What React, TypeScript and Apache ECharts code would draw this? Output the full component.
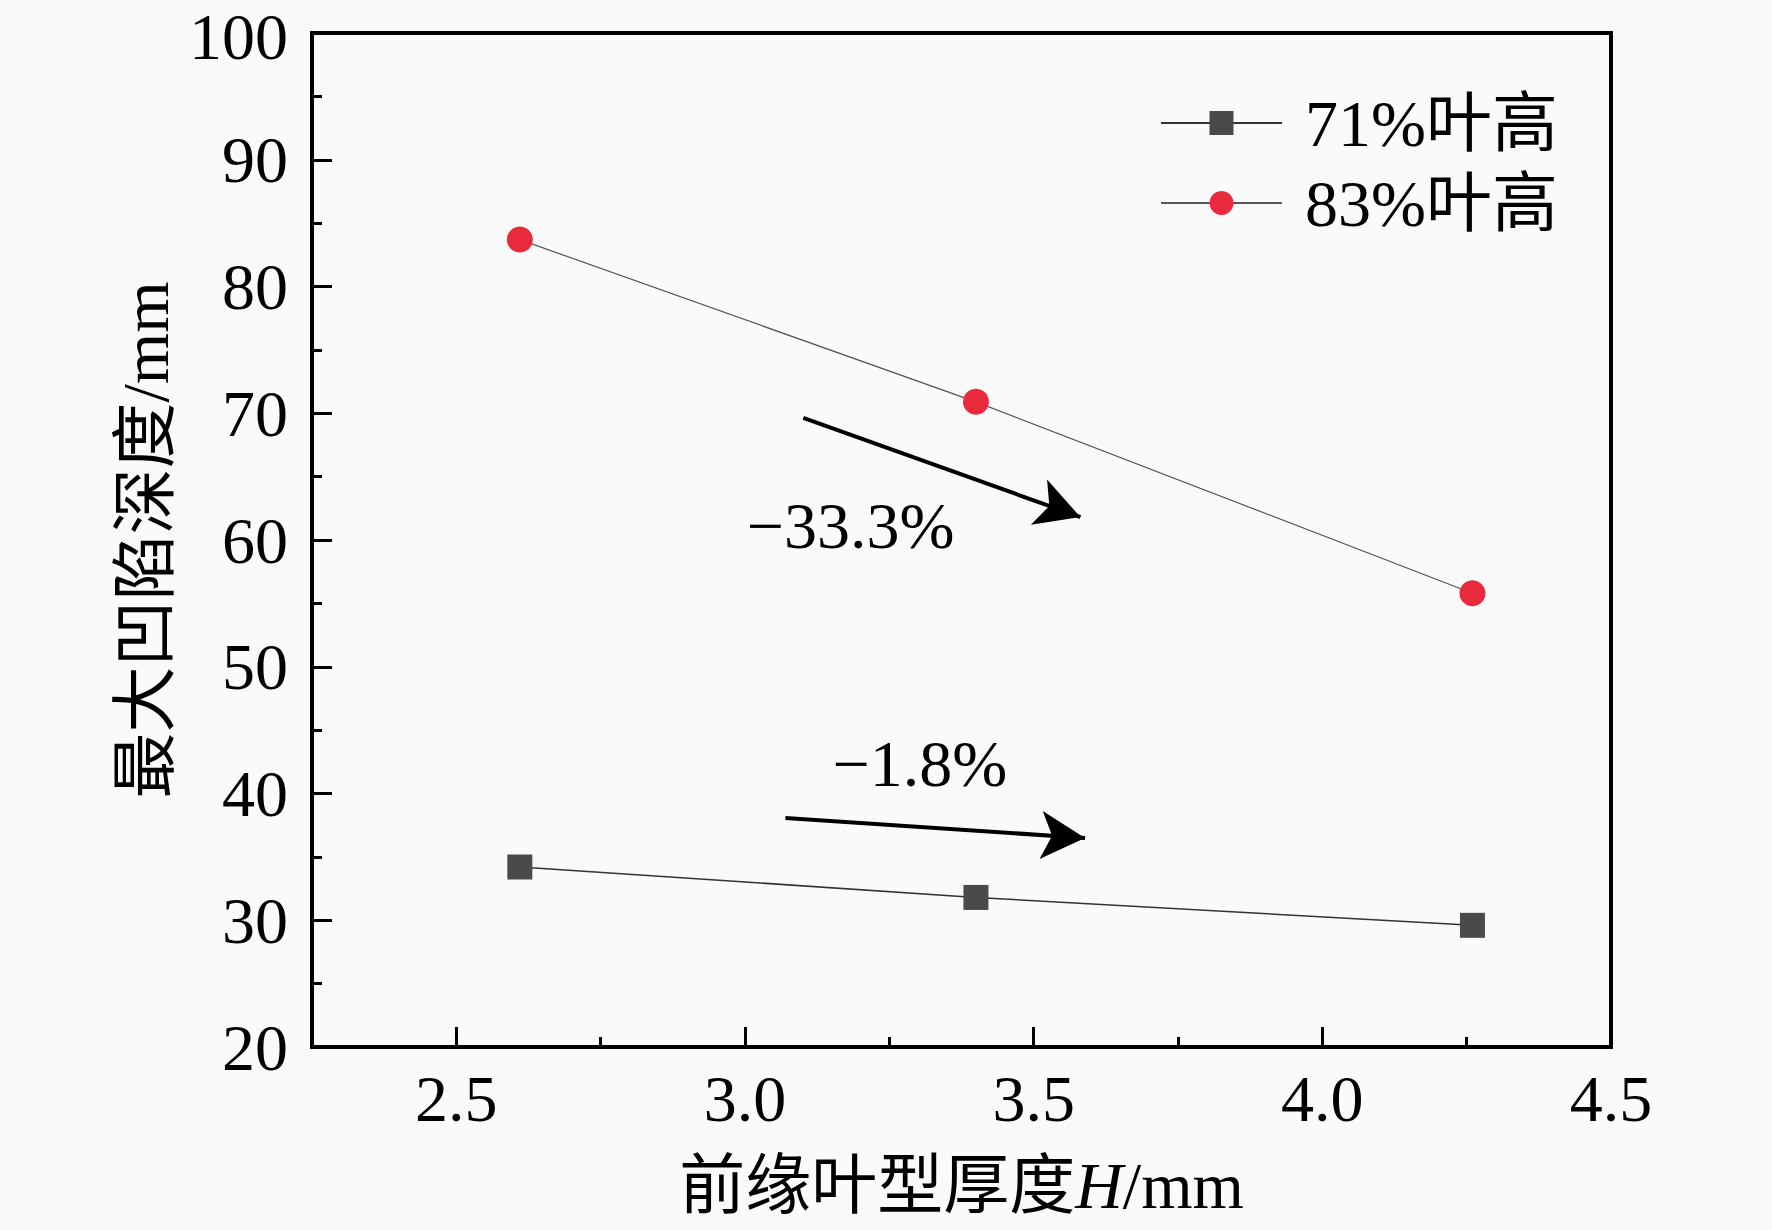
import React, { useEffect, useRef } from "react";
import * as echarts from "echarts";

// ---- data ----
const xValues = [2.61, 3.4, 4.26];
const series71 = [34.2, 31.8, 29.6];
const series83 = [83.7, 70.9, 55.8];
const seriesNames = ["71%叶高", "83%叶高"];

const xMajorTicks = [2.5, 3.0, 3.5, 4.0, 4.5];
const xMinorTicks = [2.75, 3.25, 3.75, 4.25];
const yMax = 100;

// annotation arrows, in data coordinates: [start, tip]
const arrow33 = [
  [3.101, 69.63],
  [3.581, 61.81],
];
const arrow18 = [
  [3.07, 38.07],
  [3.589, 36.49],
];
const annotationTexts = ["−33.3%", "−1.8%"];
const annotationAt = [
  [3.183, 61.18],
  [3.303, 42.33],
];

const FONT = "'Liberation Serif', 'Noto Sans CJK SC', serif";
const FS = 66;

export default function App() {
  const ref = useRef<HTMLDivElement>(null);

  useEffect(() => {
    const chart = echarts.init(ref.current as HTMLDivElement, null, {
      renderer: "svg",
    });
    const tickLine = { color: "#000", width: 3 };
    chart.setOption({
      animation: false,
      backgroundColor: "#fafafa",
      textStyle: { fontFamily: FONT, color: "#000" },
      grid: {
        left: 312,
        top: 33,
        width: 1299,
        height: 1014,
        show: true,
        borderColor: "#000",
        borderWidth: 4,
        backgroundColor: "transparent",
      },
      legend: {
        orient: "vertical",
        left: 1155,
        top: 85,
        itemWidth: 121,
        itemHeight: 30,
        itemGap: 14,
        data: seriesNames,
        textStyle: {
          fontSize: FS,
          fontFamily: FONT,
          color: "#000",
          padding: [0, 0, 0, 18],
        },
      },
      xAxis: [
        {
          type: "value",
          min: 2.25,
          max: 4.5,
          name: "前缘叶型厚度{i|H}/mm",
          nameLocation: "middle",
          nameGap: 105,
          nameTextStyle: {
            fontSize: FS,
            fontFamily: FONT,
            color: "#000",
            rich: {
              i: { fontSize: FS, fontFamily: FONT, fontStyle: "italic", color: "#000" },
            },
          },
          axisLine: { onZero: false, lineStyle: { color: "#000", width: 4 } },
          axisTick: {
            inside: true,
            length: 20,
            customValues: xMajorTicks,
            lineStyle: tickLine,
          },
          axisLabel: {
            customValues: xMajorTicks,
            formatter: (v: number) => v.toFixed(1),
            fontSize: FS,
            margin: 18,
            color: "#000",
            fontFamily: FONT,
          },
          splitLine: { show: false },
        },
        {
          type: "value",
          min: 2.25,
          max: 4.5,
          position: "bottom",
          axisLine: { show: false, onZero: false },
          axisTick: {
            inside: true,
            length: 10,
            customValues: xMinorTicks,
            lineStyle: tickLine,
          },
          axisLabel: { show: false },
          splitLine: { show: false },
        },
      ],
      yAxis: {
        type: "value",
        min: 20,
        max: yMax,
        interval: 10,
        name: "最大凹陷深度/mm",
        nameLocation: "middle",
        nameGap: 128,
        nameTextStyle: { fontSize: FS, fontFamily: FONT, color: "#000" },
        axisLine: { show: true, onZero: false, lineStyle: { color: "#000", width: 4 } },
        axisTick: { show: true, inside: true, length: 20, lineStyle: tickLine },
        minorTick: { show: true, splitNumber: 2, length: 10, lineStyle: tickLine },
        axisLabel: {
          fontSize: FS,
          margin: 24,
          color: "#000",
          fontFamily: FONT,
          formatter: (v: number) => (v === yMax ? `{top|${v}}` : `${v}`),
          rich: {
            top: {
              fontSize: FS,
              fontFamily: FONT,
              color: "#000",
              padding: [7, 0, 0, 0],
            },
          },
        },
        splitLine: { show: false },
      },
      series: [
        {
          name: seriesNames[0],
          type: "line",
          data: xValues.map((x, i) => [x, series71[i]]),
          symbol: "rect",
          symbolSize: 25,
          itemStyle: { color: "#4a4a4a" },
          lineStyle: { color: "#333", width: 1.6 },
          z: 3,
          markLine: {
            silent: true,
            symbol: ["none", "arrow"],
            symbolSize: [36, 44],
            label: { show: false },
            lineStyle: { color: "#000", width: 4, type: "solid" },
            itemStyle: { color: "#000" },
            data: [
              [{ coord: arrow33[0] }, { coord: arrow33[1] }],
              [{ coord: arrow18[0] }, { coord: arrow18[1] }],
            ],
          },
        },
        {
          name: seriesNames[1],
          type: "line",
          data: xValues.map((x, i) => [x, series83[i]]),
          symbol: "circle",
          symbolSize: 26,
          itemStyle: { color: "#e82a3c" },
          lineStyle: { color: "#555", width: 1.2 },
          z: 4,
        },
      ],
    });

    const graphics = annotationTexts.map((t, i) => {
      const p = chart.convertToPixel({ seriesIndex: 0 }, annotationAt[i]) as number[];
      return {
        type: "text",
        x: p[0],
        y: p[1],
        silent: true,
        style: {
          text: t,
          fontSize: FS,
          fontFamily: FONT,
          fill: "#000",
          align: "center",
          verticalAlign: "middle",
        },
      };
    });
    chart.setOption({ graphic: graphics });

    return () => chart.dispose();
  }, []);

  return (
    <div
      ref={ref}
      style={{ position: "absolute", left: 0, top: 0, width: 1772, height: 1230 }}
    />
  );
}
